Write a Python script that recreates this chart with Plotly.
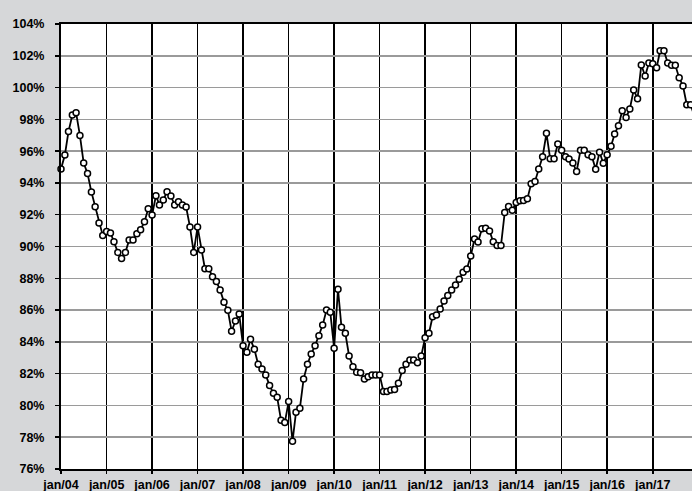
import pandas as pd
import plotly.graph_objects as go

start_month = "2004-01-01"

values_2004 = [94.88, 95.76, 97.23, 98.27, 98.42, 96.98, 95.25, 94.60, 93.43, 92.50, 91.48, 90.70]
values_2005 = [90.95, 90.85, 90.30, 89.63, 89.24, 89.63, 90.41, 90.41, 90.81, 91.06, 91.56, 92.38]
values_2006 = [91.98, 93.20, 92.61, 92.93, 93.45, 93.18, 92.61, 92.82, 92.61, 92.49, 91.23, 89.63]
values_2007 = [91.23, 89.78, 88.60, 88.60, 88.10, 87.79, 87.27, 86.49, 85.99, 84.67, 85.31, 85.75]
values_2008 = [83.76, 83.34, 84.16, 83.53, 82.59, 82.29, 81.92, 81.25, 80.76, 80.51, 79.06, 78.92]
values_2009 = [80.24, 77.74, 79.57, 79.82, 81.67, 82.59, 83.24, 83.76, 84.39, 85.06, 86.00, 85.86]
values_2010 = [83.60, 87.31, 84.92, 84.54, 83.11, 82.44, 82.08, 82.06, 81.67, 81.81, 81.92, 81.92]
values_2011 = [81.92, 80.87, 80.87, 80.97, 81.00, 81.39, 82.19, 82.59, 82.86, 82.86, 82.69, 83.11]
values_2012 = [84.26, 84.54, 85.58, 85.69, 86.07, 86.57, 86.91, 87.27, 87.58, 87.94, 88.38, 88.58]
values_2013 = [89.40, 90.47, 90.28, 91.11, 91.15, 90.98, 90.30, 90.06, 90.06, 92.14, 92.51, 92.28]
values_2014 = [92.77, 92.88, 92.90, 93.01, 93.95, 94.09, 94.87, 95.65, 97.12, 95.52, 95.52, 96.45]
values_2015 = [96.05, 95.65, 95.50, 95.26, 94.72, 96.05, 96.05, 95.77, 95.65, 94.86, 95.93, 95.24]
values_2016 = [95.77, 96.31, 97.08, 97.60, 98.54, 98.12, 98.65, 99.85, 99.30, 101.42, 100.73, 101.55]
values_2017 = [101.50, 101.25, 102.32, 102.32, 101.55, 101.40, 101.40, 100.62, 100.10, 98.92, 98.92, 98.20]

values = (values_2004 + values_2005 + values_2006 + values_2007 + values_2008 + values_2009
          + values_2010 + values_2011 + values_2012 + values_2013 + values_2014 + values_2015
          + values_2016 + values_2017)
months = pd.date_range(start_month, periods=len(values), freq="MS")

tick_dates = ["2004-01-01", "2005-01-01", "2006-01-01", "2007-01-01", "2008-01-01",
              "2009-01-01", "2010-01-01", "2011-01-01", "2012-01-01", "2013-01-01",
              "2014-01-01", "2015-01-01", "2016-01-01", "2017-01-01"]
tick_labels = ["jan/04", "jan/05", "jan/06", "jan/07", "jan/08", "jan/09", "jan/10",
               "jan/11", "jan/12", "jan/13", "jan/14", "jan/15", "jan/16", "jan/17"]

fig = go.Figure()
fig.add_trace(go.Scatter(
    x=months, y=values, mode="lines+markers",
    line=dict(color="black", width=1.8),
    marker=dict(size=6, color="white", line=dict(color="black", width=1.5)),
    cliponaxis=False, showlegend=False, hoverinfo="skip",
))

font = dict(family="Liberation Sans, Arial, sans-serif", size=12.5, color="black", weight="bold")

fig.update_layout(
    width=692, height=491,
    margin=dict(l=61, r=0, t=24, b=22, autoexpand=False),
    paper_bgcolor="#d6d7d9",
    plot_bgcolor="white",
    font=font,
)
fig.update_xaxes(
    type="date", automargin=False,
    range=["2004-01-01", "2017-11-12"],
    tickvals=tick_dates, ticktext=tick_labels,
    showgrid=True, gridcolor="black", gridwidth=1.5,
    showline=True, linecolor="black", linewidth=2, mirror=True,
    ticks="outside", ticklen=3, tickcolor="black", tickwidth=1.5,
    tickfont=font, ticklabelstandoff=0,
    zeroline=False,
)
fig.update_yaxes(
    automargin=False,
    range=[76, 104], dtick=2, tick0=76, ticksuffix="%",
    showgrid=True, gridcolor="#9a9a9a", gridwidth=1.5,
    showline=True, linecolor="black", linewidth=2,
    ticks="outside", ticklen=4, tickcolor="black", tickwidth=1.5,
    tickfont=font, ticklabelstandoff=8,
    zeroline=False,
)

fig.write_html(
    "out.html",
    config={"displayModeBar": False, "staticPlot": True},
    post_script="document.body.style.margin='0';document.body.style.padding='0';document.body.style.overflow='hidden';",
)
